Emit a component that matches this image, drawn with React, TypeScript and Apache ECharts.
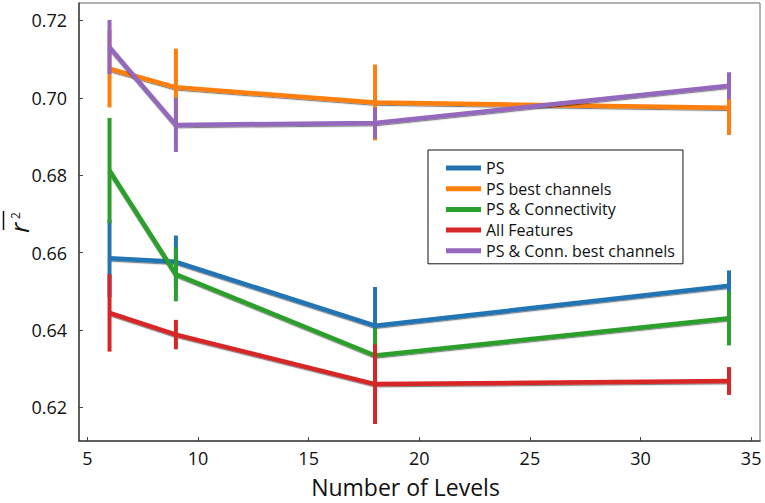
import React, { useEffect, useRef } from "react";
import * as echarts from "echarts";

const levels = [6, 9, 18, 34];
const seriesNames = [
  "PS",
  "PS best channels",
  "PS & Connectivity",
  "All Features",
  "PS & Conn. best channels",
];
const seriesColors = ["#2474b4", "#ff7f0e", "#2ca02c", "#d62728", "#9467bd"];
const psMean = [0.6585, 0.6576, 0.6411, 0.6514];
const psErr = [0.01, 0.0068, 0.01, 0.004];
const psBestMean = [0.7075, 0.7027, 0.6988, 0.6974];
const psBestErr = [0.01, 0.01, 0.0098, 0.007];
const psConnMean = [0.6812, 0.6544, 0.6334, 0.643];
const psConnErr = [0.0136, 0.007, 0.007, 0.007];
const allMean = [0.6444, 0.6388, 0.626, 0.6268];
const allErr = [0.01, 0.0038, 0.0103, 0.0036];
const psConnBestMean = [0.7131, 0.693, 0.6935, 0.7031];
const psConnBestErr = [0.007, 0.007, 0.004, 0.0035];
const xTicks = [5, 10, 15, 20, 25, 30, 35];
const yTicks = [0.62, 0.64, 0.66, 0.68, 0.7, 0.72];

const means = [psMean, psBestMean, psConnMean, allMean, psConnBestMean];
const errs = [psErr, psBestErr, psConnErr, allErr, psConnBestErr];

const FONT = "Open Sans";

export default function App() {
  const ref = useRef<HTMLDivElement>(null);
  useEffect(() => {
    document.body.style.margin = "0";
    const chart = echarts.init(ref.current!, null, { renderer: "svg" });
    const series: any[] = [];
    seriesNames.forEach((name, i) => {
      series.push({
        name,
        type: "line",
        data: levels.map((x, j) => [x, means[i][j]]),
        showSymbol: false,
        z: 2 + i * 2,
        itemStyle: { color: seriesColors[i] },
        lineStyle: {
          color: seriesColors[i],
          width: 4.5,
          shadowColor: "rgba(0,0,0,0.5)",
          shadowBlur: 1,
          shadowOffsetY: 1.2,
        },
      });
      series.push({
        name: name + " err",
        type: "custom",
        z: 3 + i * 2,
        data: levels.map((x, j) => [x, means[i][j], errs[i][j]]),
        encode: { x: 0, y: 1 },
        renderItem: (params: any, api: any) => {
          const x = api.value(0);
          const m = api.value(1);
          const e = api.value(2);
          const p1 = api.coord([x, m - e]);
          const p2 = api.coord([x, m + e]);
          return {
            type: "line",
            shape: { x1: p1[0], y1: p1[1], x2: p2[0], y2: p2[1] },
            style: { stroke: seriesColors[i], lineWidth: 4 },
          };
        },
      });
    });

    chart.setOption({
      animation: false,
      grid: {
        left: 79,
        top: 3,
        right: 5,
        bottom: 58,
        show: true,
        borderColor: "#666",
        borderWidth: 1,
      },
      xAxis: {
        type: "value",
        min: 4.62,
        max: 35.4,
        name: "Number of Levels",
        nameLocation: "middle",
        nameGap: 34,
        nameTextStyle: {
          fontFamily: FONT,
          fontSize: 23,
          color: "#111",
          padding: [0, 28, 0, 0],
        },
        axisLine: { show: true, lineStyle: { color: "#444", width: 1.5 } },
        axisTick: {
          show: true,
          inside: true,
          length: 4,
          customValues: xTicks,
          lineStyle: { color: "#444" },
        },
        axisLabel: {
          customValues: xTicks,
          fontFamily: FONT,
          fontSize: 18,
          color: "#111",
          margin: 8,
        },
        splitLine: { show: false },
      },
      yAxis: {
        type: "value",
        min: 0.6113,
        max: 0.7245,
        axisLine: { show: true, lineStyle: { color: "#444", width: 1.5 } },
        axisTick: {
          show: true,
          inside: true,
          length: 4,
          customValues: yTicks,
          lineStyle: { color: "#444" },
        },
        axisLabel: {
          customValues: yTicks,
          formatter: (v: number) => v.toFixed(2),
          fontFamily: FONT,
          fontSize: 18,
          color: "#111",
          margin: 12,
        },
        splitLine: { show: false },
      },
      legend: {
        orient: "vertical",
        left: 428,
        top: 150,
        data: seriesNames.map((n) => ({ name: n, icon: "rect" })),
        itemWidth: 35,
        itemHeight: 5,
        itemGap: 4.7,
        padding: [10, 8, 5, 18],
        borderColor: "#111",
        borderWidth: 1,
        backgroundColor: "#fff",
        textStyle: {
          fontFamily: FONT,
          fontSize: 16,
          color: "#111",
          lineHeight: 16,
        },
      },
      graphic: [
        {
          type: "group",
          x: 21,
          y: 226,
          rotation: Math.PI / 2,
          children: [
            {
              type: "text",
              x: -7,
              y: -2,
              style: {
                text: "r",
                font: "italic 26px Open Sans",
                fill: "#111",
                verticalAlign: "middle",
              },
            },
            {
              type: "text",
              x: 7,
              y: -6,
              style: {
                text: "2",
                font: "12px Open Sans",
                fill: "#111",
                verticalAlign: "middle",
              },
            },
            {
              type: "line",
              shape: { x1: -4, y1: -17.5, x2: 15, y2: -17.5 },
              style: { stroke: "#111", lineWidth: 1.5 },
            },
          ],
        },
      ],
      series,
    });
    return () => chart.dispose();
  }, []);
  return <div ref={ref} style={{ width: 765, height: 503 }} />;
}
